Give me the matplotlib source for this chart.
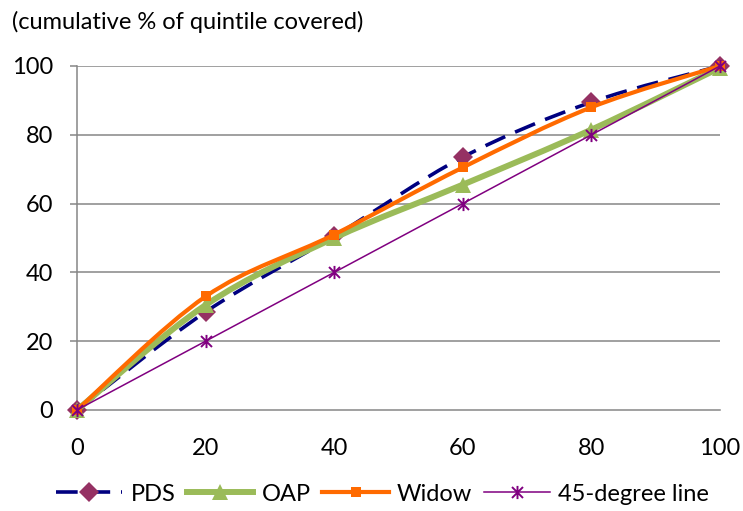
import numpy as np
import matplotlib.pyplot as plt
from matplotlib.path import Path
from matplotlib.patches import PathPatch
from matplotlib.lines import Line2D

plt.rcParams['font.family'] = ['Lato', 'DejaVu Sans']

# ==========================================================
# DATA
# ==========================================================
x_vals = [0, 20, 40, 60, 80, 100]
pds = [0, 28.5, 50.5, 73.5, 89.5, 100]
oap = [0, 30.5, 50.0, 65.5, 81.5, 99.5]
widow = [0, 33.0, 51.0, 70.5, 88.0, 100]
line45 = [0, 20, 40, 60, 80, 100]


def smooth_path(xs, ys):
    # excel-like smoothed line: cubic bezier with catmull-rom control points
    p = np.column_stack([xs, ys]).astype(float)
    pe = np.vstack([p[0], p, p[-1]])
    verts = [p[0]]
    codes = [Path.MOVETO]
    for i in range(len(p) - 1):
        c1 = pe[i+1] + (pe[i+2] - pe[i]) / 6.0
        c2 = pe[i+2] - (pe[i+3] - pe[i+1]) / 6.0
        verts += [c1, c2, pe[i+2]]
        codes += [Path.CURVE4] * 3
    return Path(verts, codes)


# star marker like excel: an x with a vertical bar
star = Path([(-1, -1), (1, 1), (-1, 1), (1, -1), (0, -1.2), (0, 1.2)],
            [Path.MOVETO, Path.LINETO, Path.MOVETO, Path.LINETO,
             Path.MOVETO, Path.LINETO])

fig = plt.figure(figsize=(7.43, 5.11), dpi=100)
ax = fig.add_axes([0.1036, 0.1977, 0.8655, 0.6732])

fs = 17
grid_col = '#868686'
ax.set_xlim(0, 100)
ax.set_ylim(0, 100)
ax.set_yticks([0, 20, 40, 60, 80, 100])
ax.set_xticks(x_vals)
for y in [20, 40, 60, 80, 100]:
    ax.axhline(y, color=grid_col, lw=1.1, zorder=1)

for s in ['top', 'right']:
    ax.spines[s].set_visible(False)
ax.spines['left'].set_color(grid_col)
ax.spines['bottom'].set_color(grid_col)
ax.spines['left'].set_linewidth(1.1)
ax.spines['bottom'].set_linewidth(1.1)
ax.tick_params(axis='y', length=5, width=1.1, color=grid_col, pad=12, labelsize=fs)
ax.tick_params(axis='x', length=0, pad=20, labelsize=fs)

# series
series = [
    (pds, '#000080', 2.6, (0, (6, 3)), 'D', '#953163', 10, 'PDS', True),
    (oap, '#9BBB59', 4.3, '-', '^', '#9BBB59', 12, 'OAP', True),
    (widow, '#FF6A00', 3.0, '-', 's', '#FF6A00', 7, 'Widow', True),
    (line45, '#800080', 1.1, '-', star, '#800080', 9.5, '45-degree line', False),
]

handles = []
for i, (ys, col, lw, ls, mk, mcol, ms, lab, smooth) in enumerate(series):
    z = 3 + i
    if smooth:
        patch = PathPatch(smooth_path(x_vals, ys), fill=False, edgecolor=col,
                          lw=lw, linestyle=ls, zorder=z, clip_on=False,
                          capstyle='butt')
        ax.add_patch(patch)
    else:
        ax.plot(x_vals, ys, color=col, lw=lw, zorder=z, clip_on=False)
    is_star = mk is star
    mew = 1.4 if is_star else 0
    mfc = 'none' if is_star else mcol
    ax.plot(x_vals, ys, linestyle='none', marker=mk, markerfacecolor=mfc,
            markeredgecolor=mcol, ms=ms, mew=mew, zorder=z + 0.5, clip_on=False)
    handles.append(Line2D([], [], color=col, lw=lw, linestyle=ls, marker=mk,
                          markerfacecolor=mfc, markeredgecolor=mcol,
                          ms=ms, mew=mew, label=lab))

fig.text(0.016, 0.958, '(cumulative % of quintile covered)', fontsize=fs,
         va='center', ha='left')

fig.legend(handles=handles, loc='center', bbox_to_anchor=(0.515, 0.033), ncol=4,
           frameon=False, fontsize=fs, handlelength=2.8, handletextpad=0.35,
           columnspacing=0.5)

fig.savefig('out.png', dpi=100)
